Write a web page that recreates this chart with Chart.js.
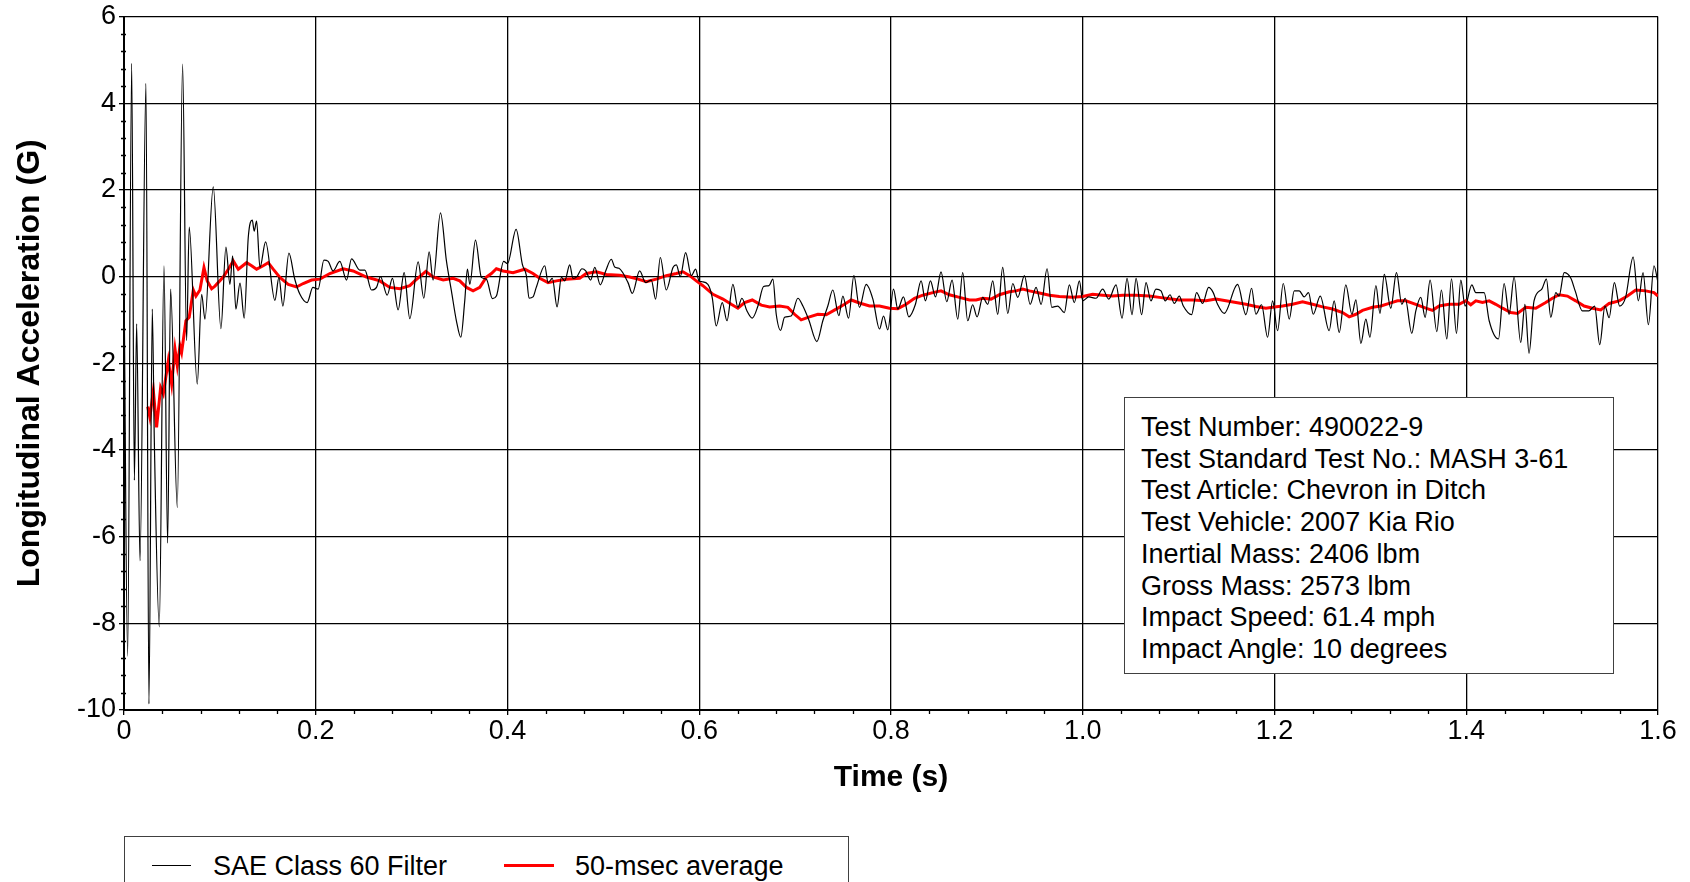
<!DOCTYPE html>
<html>
<head>
<meta charset="utf-8">
<script src="https://cdn.jsdelivr.net/npm/chart.js@4.4.1/dist/chart.umd.min.js"></script>
<style>
html,body{margin:0;padding:0;width:1690px;height:882px;overflow:hidden;background:#fff;}
#wrap{position:relative;width:1690px;height:882px;overflow:hidden;}
#chart{position:absolute;left:0;top:0;}
.info{position:absolute;left:1124px;top:397px;width:490px;height:277px;box-sizing:border-box;border:1px solid #404040;background:#fff;padding:14px 0 0 16px;font-family:'Liberation Sans',Arial,sans-serif;font-size:27px;line-height:31.7px;color:#000;white-space:nowrap;}
.legend{position:absolute;left:124px;top:836px;width:725px;height:90px;box-sizing:border-box;border:1px solid #404040;background:#fff;font-family:'Liberation Sans',Arial,sans-serif;font-size:27px;color:#000;}
.legend .s{position:absolute;top:28px;}
.legend .t{position:absolute;top:13px;line-height:32px;white-space:nowrap;}
</style>
</head>
<body>
<div id="wrap">
<canvas id="chart" width="1690" height="882"></canvas>
<div class="info" id="info"></div>
<div class="legend" id="legend">
  <div class="s" style="left:27px;width:39px;border-top:1px solid #000;"></div>
  <div class="t" id="lg1" style="left:88px;"></div>
  <div class="s" style="left:379px;width:50px;border-top:3px solid #ff0000;top:27px;"></div>
  <div class="t" id="lg2" style="left:450px;"></div>
</div>
</div>
<script>
// ---- Data ----
const seriesNames = ['SAE Class 60 Filter', '50-msec average'];
const xTickLabels = ['0', '0.2', '0.4', '0.6', '0.8', '1.0', '1.2', '1.4', '1.6'];
const yTickLabels = ['-10', '-8', '-6', '-4', '-2', '0', '2', '4', '6'];
const xTitle = 'Time (s)';
const yTitle = 'Longitudinal Acceleration (G)';
const infoLines = [
  'Test Number: 490022-9',
  'Test Standard Test No.: MASH 3-61',
  'Test Article: Chevron in Ditch',
  'Test Vehicle: 2007 Kia Rio',
  'Inertial Mass: 2406 lbm',
  'Gross Mass: 2573 lbm',
  'Impact Speed: 61.4 mph',
  'Impact Angle: 10 degrees'
];

const filterTime = [
0.000,0.0038,0.008,0.0108,0.0132,0.0167,0.0229,0.026,0.0295,0.0316,0.0368,0.0417,0.0455,0.0486,0.0556,0.0611,0.0653,0.068,0.0764,0.081,0.0844,
0.0931,0.1011,0.1063,0.1105,0.1133,0.1167,0.121,0.1254,0.1296,0.1338,0.1358,0.1383,0.1418,0.1477,0.1574,0.1616,0.1657,0.172,0.178,
0.1835,0.191,0.197,0.2025,0.2085,0.213,0.218,0.2251,0.2321,0.2373,0.246,0.2512,0.2582,0.2634,0.2675,0.2745,0.28,0.2859,0.2922,0.2981,
0.3068,0.3127,0.3183,0.3224,0.3301,0.3363,0.3415,0.3467,0.3513,0.3554,0.3582,0.3607,0.3666,0.3728,0.378,0.3843,0.3884,0.396,0.4,
0.409,0.4155,0.4197,0.4225,0.4266,0.43,0.4389,0.4423,0.4468,0.4517,0.4562,0.4597,0.4649,0.4683,0.4725,0.4777,0.4816,0.4868,0.491,
0.4968,0.5024,0.5083,0.5118,0.5163,0.5257,0.5302,0.5378,0.5441,0.55,0.5545,0.5594,0.5656,0.5726,0.5761,0.5802,0.5858,0.5917,0.5962,
0.5997,0.6031,0.609,0.6135,0.6177,0.624,0.6289,0.6351,0.6403,0.6445,0.6497,0.6553,0.6612,0.6671,0.6727,0.6768,0.6803,0.6848,0.689,
0.6959,0.7029,0.7081,0.7143,0.7227,0.7289,0.7341,0.7393,0.7456,0.7498,0.7557,0.7613,0.7671,0.7741,0.7811,0.788,0.7922,0.7967,0.8026,
0.8071,0.813,0.8186,0.8255,0.8314,0.8359,0.8411,0.8464,0.8522,0.8581,0.8637,0.8696,0.8748,0.88,0.8852,0.8898,0.8957,0.9009,0.9061,
0.9113,0.9165,0.9218,0.927,0.9322,0.9392,0.9451,0.9513,0.9566,0.9628,0.9677,0.9739,0.9808,0.986,0.9912,0.9965,1.0,1.0062,1.0138,
1.0208,1.0271,1.0347,1.041,1.0462,1.0514,1.0556,1.0614,1.066,1.0711,1.0764,1.0816,1.0861,1.091,1.0955,1.1007,1.1049,1.1135,1.1187,
1.125,1.1313,1.1361,1.1406,1.1476,1.1615,1.1702,1.1761,1.1806,1.1865,1.1928,1.198,1.2032,1.2091,1.2154,1.2206,1.2258,1.231,1.2355,
1.2404,1.2477,1.257,1.2622,1.2675,1.2744,1.2807,1.2849,1.2901,1.2953,1.2995,1.3058,1.31,1.3145,1.3213,1.3272,1.3328,1.3363,1.3432,
1.3474,1.3526,1.3571,1.3623,1.3693,1.3741,1.3797,1.3846,1.3898,1.3943,1.3988,1.4058,1.41,1.4187,1.4239,1.4336,1.4395,1.4447,1.4499,
1.4568,1.4612,1.4655,1.4707,1.4788,1.4836,1.4882,1.4934,1.4968,1.5021,1.5091,1.5136,1.5211,1.528,1.5339,1.5392,1.5447,1.549,1.5545,
1.56,1.5662,1.5741,1.5795,1.5844,1.59,1.5958,1.6
];
const filterAccel = [
0.0,-8.76,4.92,-4.7,-1.09,-6.56,4.46,-9.86,-0.75,-3.75,-8.08,0.25,-6.15,-0.29,-5.33,4.9,-1.48,1.14,-2.48,-0.41,-0.98,
2.07,-1.2,0.68,-0.18,0.48,-0.75,-0.15,-0.96,0.9,1.3,1.05,1.28,0.21,0.8,-0.55,-0.02,-0.68,0.54,-0.05,
-0.41,-0.6,-0.25,-0.29,0.38,0.35,0.13,0.35,-0.08,0.41,0.15,0.15,-0.31,-0.25,0.0,-0.43,-0.04,-0.77,0.09,-0.97,
0.34,-0.5,0.57,-0.08,1.47,0.36,-0.33,-1.02,-1.4,-0.56,0.17,-0.18,0.84,-0.02,-0.06,-0.51,-0.45,0.35,0.3,
1.09,0.28,0.02,-0.5,-0.47,-0.25,0.25,-0.14,-0.04,-0.7,-0.02,-0.1,0.27,-0.04,0.0,0.18,0.13,-0.08,0.21,
-0.19,0.13,0.4,0.22,0.19,-0.14,-0.39,0.13,-0.14,-0.08,-0.52,0.44,-0.31,0.21,0.27,0.0,0.55,0.02,0.17,
-0.1,-0.12,-0.18,-0.48,-1.14,-0.6,-1.02,-0.18,-0.71,-0.5,-0.79,-0.96,-0.68,-0.23,-0.21,-0.06,-0.87,-1.24,-0.94,
-0.91,-0.5,-0.68,-1.0,-1.5,-1.02,-0.68,-0.31,-0.9,-0.45,-0.96,0.02,-0.71,-0.18,-0.52,-1.21,-0.91,-1.23,-0.29,
-0.75,-0.47,-0.93,-0.64,-0.1,-0.56,-0.1,-0.47,0.11,-0.58,-0.08,-0.98,0.09,-1.02,-0.65,-0.93,-0.48,-0.64,-0.1,
-0.87,0.21,-0.85,-0.16,-0.48,0.02,-0.64,-0.25,-0.64,0.18,-0.71,-0.68,-0.83,-0.19,-0.6,-0.1,-0.56,-0.47,-0.5,
-0.29,-0.52,-0.19,-0.96,-0.04,-0.88,-0.04,-0.88,-0.14,-0.56,-0.29,-0.33,-0.56,-0.42,-0.62,-0.45,-0.68,-0.88,-0.37,
-0.62,-0.25,-0.37,-0.64,-0.85,-0.18,-0.88,-0.27,-0.87,-0.65,-1.4,-0.56,-1.25,-0.16,-0.98,-0.33,-0.33,-0.47,-0.37,
-0.87,-0.45,-1.25,-0.56,-1.29,-0.19,-0.87,-0.54,-1.54,-0.98,-1.4,-0.21,-0.85,0.05,-0.73,0.09,-0.64,-0.5,-1.31,
-0.79,-0.48,-0.94,-0.08,-1.27,-0.31,-1.44,-0.05,-1.31,-0.08,-0.68,-0.19,-0.37,-0.37,-1.02,-1.44,-0.16,-0.87,-0.01,
-1.52,-0.64,-1.77,-0.56,-0.29,-0.06,-0.94,-0.37,-0.45,0.09,-0.04,-0.33,-0.79,-0.79,-0.68,-1.57,-0.68,-0.95,-0.14,
-0.68,-0.48,0.45,-0.56,0.09,-1.11,0.25,-0.14
];

const avgTime = [
0.0247,0.027,0.0306,0.034,0.0382,0.041,0.0462,0.0497,0.0532,0.0556,0.0584,0.0601,0.0646,0.068,0.0723,0.075,0.0792,0.0834,0.0868,
0.0914,0.0949,0.1035,0.1088,0.114,0.1192,0.1279,0.1331,0.1383,0.1452,0.1504,0.1556,0.1626,0.1713,0.18,0.1869,0.1956,0.2043,0.2147,
0.2286,0.239,0.2529,0.2668,0.2772,0.2877,0.2981,0.3033,0.3148,0.3224,0.3329,0.3433,0.3502,0.3572,0.3641,0.3711,0.378,0.3832,0.3884,
0.3954,0.4058,0.418,0.4266,0.4336,0.4423,0.451,0.4614,0.4753,0.4822,0.4927,0.5031,0.517,0.5274,0.5361,0.5448,0.5552,0.5656,0.5761,
0.583,0.59,0.5969,0.6038,0.6143,0.6247,0.6334,0.6403,0.6473,0.6553,0.6647,0.6734,0.6838,0.6924,0.6994,0.7063,0.715,0.7237,0.7324,
0.7428,0.7515,0.7585,0.7671,0.7776,0.788,0.7984,0.8071,0.8158,0.8245,0.8332,0.8436,0.8522,0.8609,0.8714,0.8818,0.8888,0.8957,0.9044,
0.9131,0.9235,0.9305,0.9374,0.9444,0.9548,0.9652,0.9756,0.9895,1.0,1.0103,1.0208,1.0312,1.0416,1.0556,1.0694,1.0799,1.0903,1.1007,
1.1146,1.1285,1.1389,1.1493,1.1598,1.1702,1.1806,1.191,1.198,1.2084,1.2188,1.2293,1.2397,1.2501,1.2605,1.271,1.2779,1.2849,1.2918,
1.3023,1.311,1.3196,1.3283,1.337,1.3474,1.3578,1.3648,1.3717,1.3821,1.3925,1.3995,1.4047,1.41,1.4169,1.4239,1.4308,1.4378,1.4465,
1.4534,1.4621,1.4725,1.4829,1.4899,1.4968,1.5055,1.5142,1.5229,1.5316,1.5403,1.549,1.5594,1.5681,1.5768,1.5872,1.5958,1.6
];
const avgAccel = [
-3.0,-3.25,-2.63,-3.48,-2.56,-2.71,-1.94,-2.48,-1.67,-2.06,-1.6,-1.75,-1.02,-0.94,-0.31,-0.45,-0.31,0.21,-0.1,
-0.28,-0.22,-0.01,0.17,0.36,0.17,0.32,0.25,0.17,0.25,0.32,0.17,-0.02,-0.18,-0.24,-0.16,-0.08,-0.06,0.07,
0.18,0.13,-0.01,-0.1,-0.25,-0.28,-0.21,-0.1,0.12,-0.01,-0.08,-0.04,-0.1,-0.25,-0.33,-0.25,-0.01,0.07,0.18,
0.13,0.09,0.17,0.07,-0.04,-0.14,-0.1,-0.06,-0.04,0.07,0.11,0.05,0.03,-0.01,-0.06,-0.12,-0.06,0.02,0.07,
0.11,0.02,-0.1,-0.21,-0.41,-0.52,-0.64,-0.73,-0.6,-0.54,-0.66,-0.7,-0.68,-0.71,-0.87,-1.0,-0.93,-0.87,-0.88,
-0.75,-0.64,-0.54,-0.61,-0.68,-0.68,-0.73,-0.74,-0.64,-0.5,-0.43,-0.37,-0.33,-0.42,-0.48,-0.54,-0.54,-0.5,-0.52,
-0.42,-0.35,-0.33,-0.29,-0.33,-0.38,-0.43,-0.46,-0.48,-0.46,-0.41,-0.43,-0.45,-0.43,-0.43,-0.45,-0.48,-0.51,-0.54,
-0.54,-0.56,-0.52,-0.56,-0.6,-0.64,-0.69,-0.73,-0.71,-0.68,-0.64,-0.58,-0.64,-0.7,-0.75,-0.83,-0.93,-0.87,-0.78,
-0.71,-0.68,-0.62,-0.56,-0.56,-0.64,-0.73,-0.78,-0.68,-0.64,-0.64,-0.56,-0.65,-0.56,-0.6,-0.56,-0.64,-0.73,-0.83,
-0.85,-0.71,-0.73,-0.6,-0.5,-0.42,-0.45,-0.56,-0.68,-0.73,-0.77,-0.62,-0.56,-0.45,-0.31,-0.33,-0.37,-0.45
];

// ---- Text overlays ----
document.getElementById('info').innerHTML = infoLines.map(s => '<div>' + s + '</div>').join('');
document.getElementById('lg1').textContent = seriesNames[0];
document.getElementById('lg2').textContent = seriesNames[1];

// ---- Chart ----
Chart.defaults.font.family = "'Liberation Sans', Arial, sans-serif";
Chart.defaults.color = '#000';

const minorTicks = {
  id: 'minorTicks',
  afterDraw(chart) {
    const {ctx, scales: {x, y}} = chart;
    ctx.save();
    ctx.strokeStyle = '#000';
    ctx.lineWidth = 1.3;
    ctx.beginPath();
    for (let i = 0; i <= 40; i++) {
      if (i % 5 === 0) continue;
      const px = Math.round(x.getPixelForValue(i * 0.04)) + 0.5;
      ctx.moveTo(px, y.bottom);
      ctx.lineTo(px, y.bottom + 4);
    }
    for (let i = 0; i <= 40; i++) {
      if (i % 5 === 0) continue;
      const py = Math.round(y.getPixelForValue(-10 + i * 0.4)) + 0.5;
      ctx.moveTo(x.left - 3, py);
      ctx.lineTo(x.left + 2, py);
    }
    ctx.stroke();
    ctx.restore();
  }
};

new Chart(document.getElementById('chart').getContext('2d'), {
  type: 'line',
  data: {
    datasets: [
      {
        label: seriesNames[0],
        data: filterTime.map((t, i) => ({x: t, y: filterAccel[i]})),
        borderColor: '#000000',
        borderWidth: 1.2,
        pointRadius: 0,
        fill: false,
        cubicInterpolationMode: 'monotone'
      },
      {
        label: seriesNames[1],
        data: avgTime.map((t, i) => ({x: t, y: avgAccel[i]})),
        borderColor: '#ff0000',
        borderWidth: 3,
        pointRadius: 0,
        fill: false,
        tension: 0
      }
    ]
  },
  options: {
    responsive: false,
    animation: false,
    devicePixelRatio: 1,
    layout: {padding: {left: 0, top: 15, right: 32, bottom: 72}},
    plugins: {legend: {display: false}, tooltip: {enabled: false}},
    scales: {
      x: {
        type: 'linear',
        min: 0, max: 1.6,
        afterFit(s) { s.height = 100; },
        ticks: {
          stepSize: 0.2, padding: 3, color: '#000', maxRotation: 0, autoSkip: false,
          font: {size: 27, lineHeight: 1},
          callback: (v) => xTickLabels[Math.round(v / 0.2)]
        },
        grid: {color: '#000', lineWidth: 1.3, tickLength: 5, tickColor: '#000', tickWidth: 1.3},
        border: {color: '#000', width: 2},
        title: {display: true, text: xTitle, color: '#000', font: {size: 30, weight: 'bold'}, padding: {top: 0, bottom: 14}}
      },
      y: {
        type: 'linear',
        min: -10, max: 6,
        afterFit(s) { s.width = 124; },
        ticks: {
          stepSize: 2, padding: 3, color: '#000',
          font: {size: 27, lineHeight: 1},
          callback: (v) => yTickLabels[Math.round((v + 10) / 2)]
        },
        grid: {color: '#000', lineWidth: 1.3, tickLength: 5, tickColor: '#000', tickWidth: 1.3},
        border: {color: '#000', width: 2},
        title: {display: true, text: yTitle, color: '#000', font: {size: 32, weight: 'bold'}, padding: {top: 11, bottom: 0}}
      }
    }
  },
  plugins: [minorTicks]
});
</script>
</body>
</html>
